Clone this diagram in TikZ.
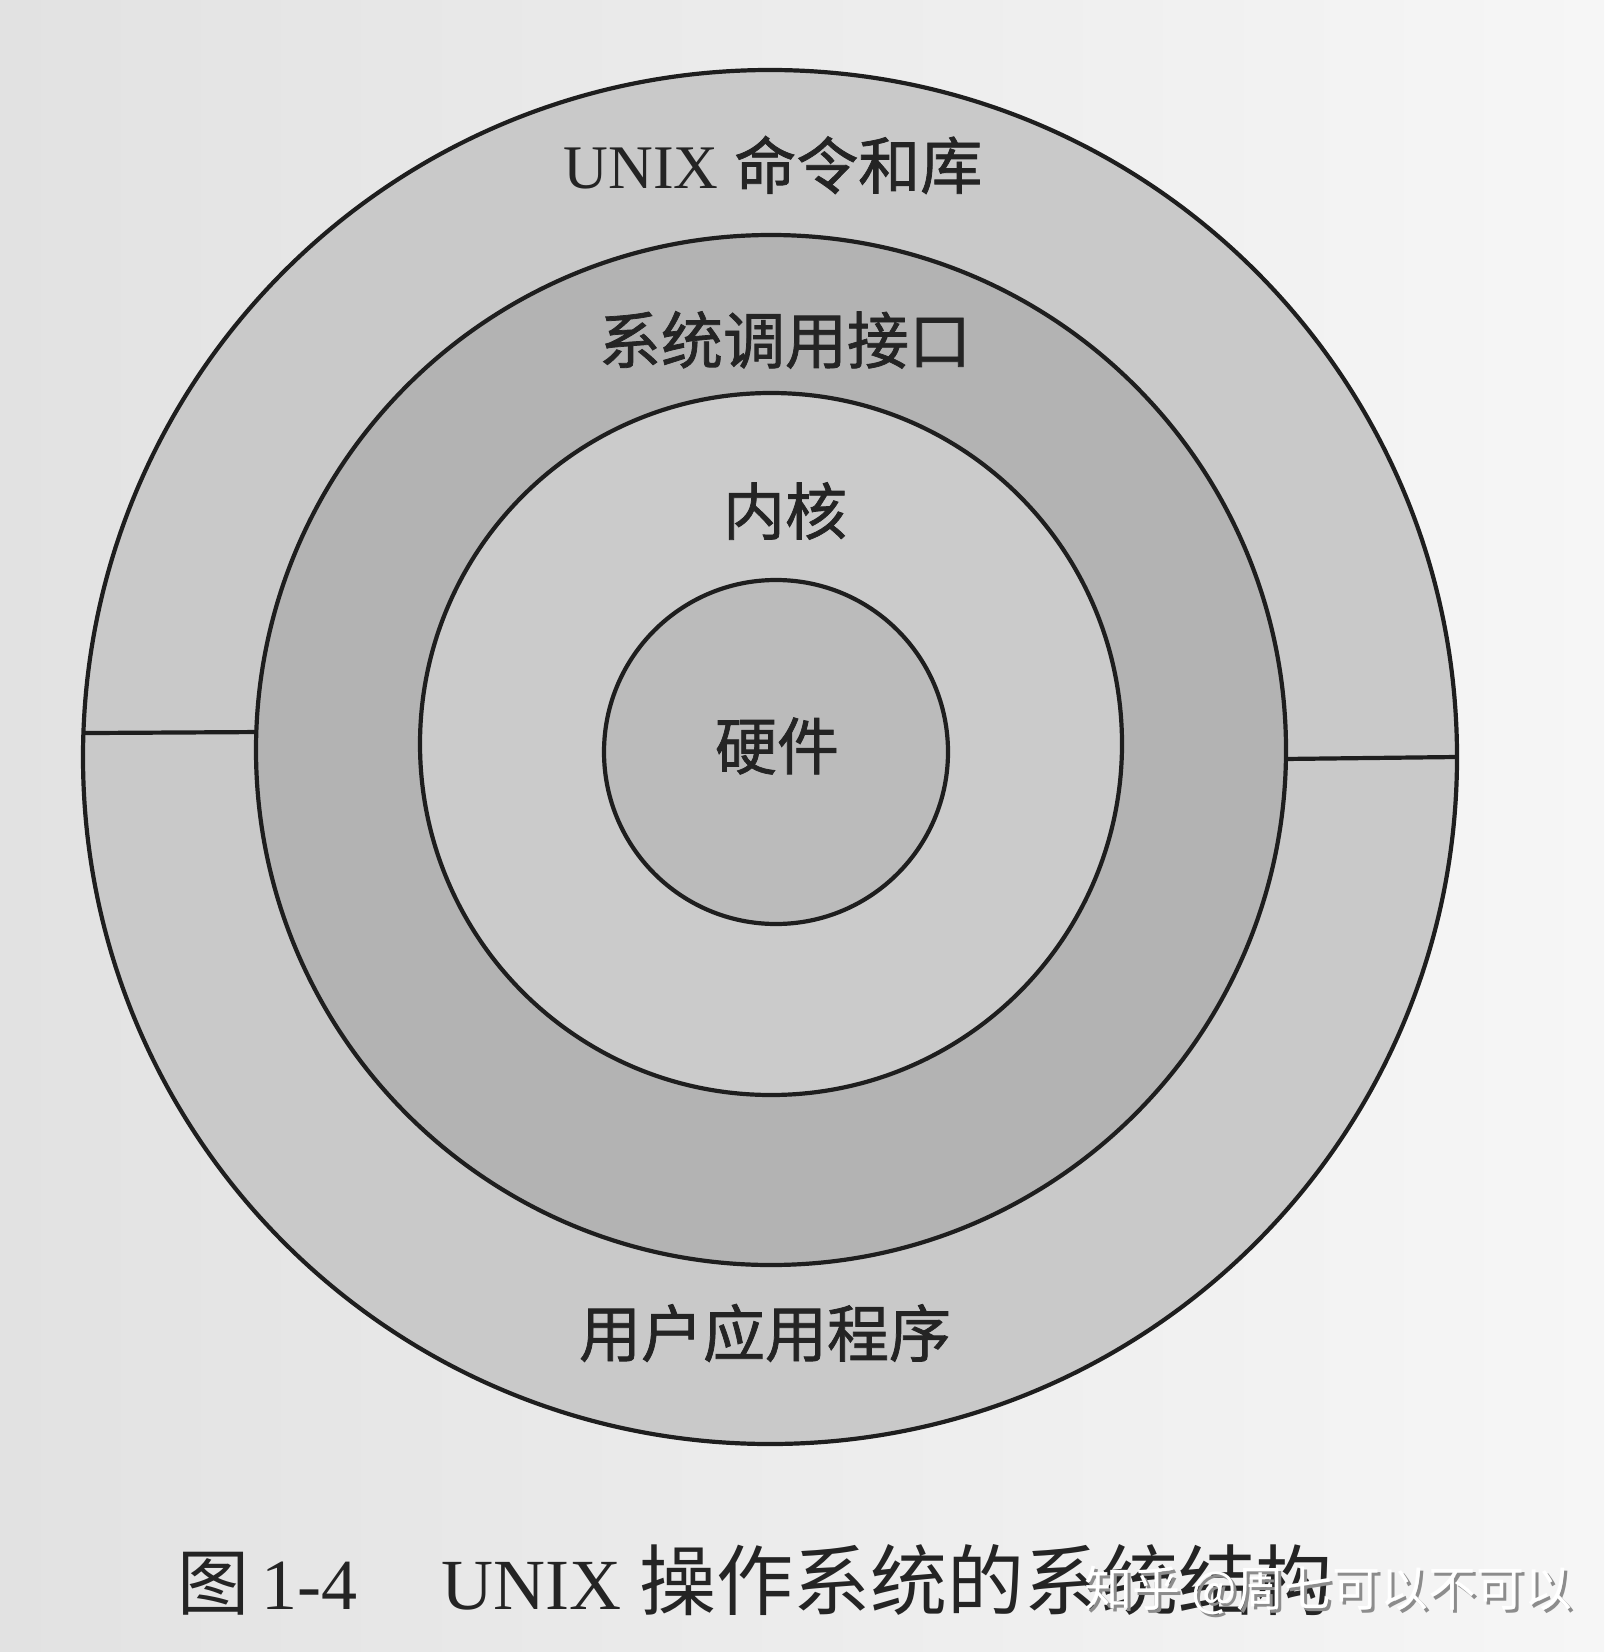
\documentclass[tikz,border=0pt]{standalone}
\usepackage{fontspec}
\setmainfont{Liberation Serif}
\newfontfamily\cjk[FakeBold=1.2]{Noto Sans CJK SC}
\newfontfamily\cjkcap{Noto Sans CJK SC}
\begin{document}
\begin{tikzpicture}[x=0.5pt,y=-0.5pt,
  ring/.style={circle, draw=ink, line width=2.1pt, inner sep=0pt, outer sep=0pt},
  lbl/.style={text=txt, font=\fontsize{31pt}{31pt}\selectfont, inner sep=0pt},
  divider/.style={draw=ink, line width=2.1pt}]
\definecolor{ink}{HTML}{1E1E1E}
\definecolor{txt}{HTML}{242424}
\definecolor{ringA}{HTML}{C9C9C9}
\definecolor{ringB}{HTML}{B3B3B3}
\definecolor{ringC}{HTML}{CBCBCB}
\definecolor{ringD}{HTML}{BBBBBB}
\definecolor{paperL}{HTML}{E2E2E2}
\definecolor{paperR}{HTML}{F6F6F6}
\shade[left color=paperL, right color=paperR] (0,0) rectangle (1604,1652);
\useasboundingbox (0,0) rectangle (1604,1652);
% rings
\node[ring, fill=ringA, minimum size=687pt] (outer) at (770,757) {};
\node[ring, fill=ringB, minimum size=515pt] (sys) at (771,750) {};
\node[ring, fill=ringC, minimum size=351pt] (kern) at (771,744) {};
\node[ring, fill=ringD, minimum size=172pt] (hw) at (776,752) {};
% dividers
\draw[divider] (outer.178.33) -- (sys.178.55);
\draw[divider] (sys.-1.45) -- (outer.-0.5);
% labels
\node[lbl] (tcmd) at (773,165) {UNIX {\cjk 命令和库}};
\node[lbl] (tsys) at (785,340) {\cjk 系统调用接口};
\node[lbl] (tkern) at (785,511) {\cjk 内核};
\node[lbl] (thw) at (777,746) {\cjk 硬件};
\node[lbl] (tapp) at (765,1333) {\cjk 用户应用程序};
% caption
\node[text=txt, font=\fontsize{36pt}{36pt}\selectfont, inner sep=0pt, anchor=west] (cap) at (177,1580)
  {{\cjkcap 图}\,1-4\hspace{42pt}UNIX {\cjkcap\fontsize{38.5pt}{38.5pt}\selectfont 操作系统的系统结构}};
% watermark
\node[text=black!45, font=\cjkcap\fontsize{24pt}{24pt}\selectfont, inner sep=0pt, anchor=west] (wms) at (1087,1593) {知乎 @周七可以不可以};
\node[text=white, font=\cjkcap\fontsize{24pt}{24pt}\selectfont, inner sep=0pt, anchor=west] (wm) at (1084,1590) {知乎 @周七可以不可以};
\end{tikzpicture}
\end{document}
